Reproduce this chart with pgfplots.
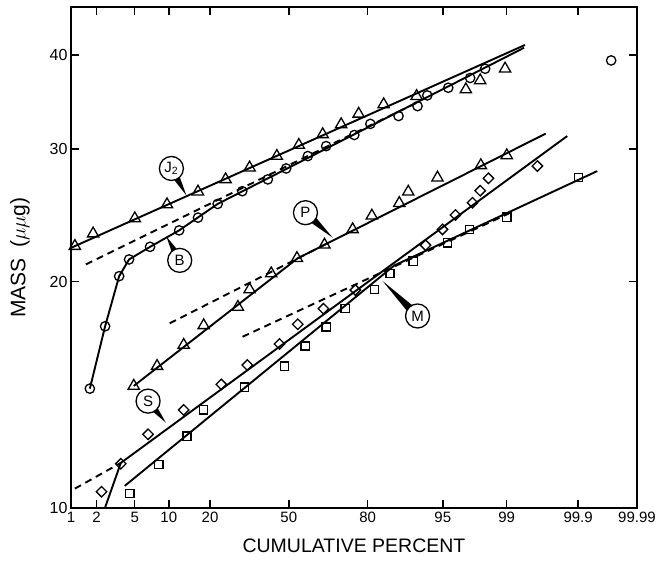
\documentclass[border=0pt]{standalone}
\usepackage{fontspec}
\setmainfont{Liberation Sans}
\usepackage{pgfplots}
\pgfplotsset{compat=1.18}
\usetikzlibrary{calc}

% x values are normal scores (probits) of the cumulative percent,
% so that the probability scale becomes linear.
\pgfplotsset{
  solidfit/.style={black, line width=1.9pt, no marks},
  dashfit/.style={black, line width=1.9pt, no marks, dash pattern=on 7pt off 5pt},
  triM/.style={only marks, mark=triangle, mark size=6.5pt,
    mark options={fill=white, draw=black, line width=1.3pt, solid}},
  cirM/.style={only marks, mark=o, mark size=4.7pt,
    mark options={fill=white, draw=black, line width=1.3pt, solid}},
  diaM/.style={only marks, mark=square, mark size=3.7pt,
    mark options={fill=white, draw=black, line width=1.3pt, rotate=45, solid}},
  sqM/.style={only marks, mark=square, mark size=4.1pt,
    mark options={fill=white, draw=black, line width=1.3pt, solid}},
}

\newcommand{\tagcircle}[3]{%
  \fill ($(#1)!5pt!90:(#2)$) -- (#2) -- ($(#1)!5pt!-90:(#2)$) -- cycle;
  \node[circle, draw=black, fill=white, line width=1.3pt, minimum size=24pt,
        inner sep=0pt, font=\fontsize{15}{15}\selectfont] at (#1) {#3};%
}

\begin{document}
\begin{tikzpicture}
\begin{axis}[
  scale only axis, width=566pt, height=501pt,
  xmin=-2.3263, xmax=3.7190,
  ymode=log, ymin=10, ymax=46.3,
  xtick={-2.3263,-2.0537,-1.6449,-1.2816,-0.8416,0,0.8416,1.6449,2.3263,3.0902,3.7190},
  xticklabels={1,2,5,10,20,50,80,95,99,99.9,99.99},
  ytick={10,20,30,40}, yticklabels={10,20,30,40},
  xminorticks=false, yminorticks=false,
  tick align=inside, major tick length=8pt,
  tick style={black, line width=1.4pt},
  axis line style={line width=1.8pt},
  xticklabel style={font=\fontsize{15}{15}\selectfont},
  yticklabel style={font=\fontsize{16}{16}\selectfont},
  xlabel={CUMULATIVE PERCENT},
  ylabel={MASS\enspace($\mu\mu$g)},
  every axis x label/.style={at={(axis description cs:0.5,0)}, yshift=-37pt,
    anchor=center, font=\fontsize{19.5}{19.5}\selectfont},
  every axis y label/.style={at={(axis description cs:0,0.5)}, xshift=-51pt,
    rotate=90, anchor=center, font=\fontsize{21}{21}\selectfont},
  clip mode=individual,
  /pgf/number format/assume math mode=true,
]

% ---------- fitted and hand-drawn lines ----------
% J2
\addplot[solidfit] coordinates {(-2.327,22.18) (2.523,41.26)};
% B
\addplot[solidfit] coordinates {(-2.125,14.42) (-1.962,17.45) (-1.812,20.34)
  (-1.706,21.41) (-1.482,22.25) (-1.171,23.40) (-0.760,25.37) (2.513,40.91)};
\addplot[dashfit] coordinates {(-2.167,21.09) (1.393,34.71)};
% P
\addplot[solidfit] coordinates {(-1.656,14.54) (0.093,21.48) (2.744,31.46)};
\addplot[dashfit] coordinates {(-1.272,17.61) (0.434,22.56)};
% S
\addplot[solidfit] coordinates {(-1.965,10.00) (-1.794,11.49) (2.974,31.23)};
\addplot[dashfit] coordinates {(-2.285,10.62) (-1.794,11.49)};
% M
\addplot[solidfit] coordinates {(-1.752,10.71) (1.127,21.02) (3.294,28.05)};
\addplot[dashfit] coordinates {(-0.494,16.90) (2.353,24.65)};

% ---------- measured points ----------
% J2 (triangles)
\addplot[triM] coordinates {(-2.285,22.30) (-2.090,23.17) (-1.645,24.27)
  (-1.301,25.33) (-0.970,26.34) (-0.675,27.35) (-0.419,28.35) (-0.128,29.37)
  (0.107,30.38) (0.362,31.39) (0.559,32.36) (0.746,33.42) (1.013,34.40)
  (1.365,35.28) (1.891,36.01) (2.044,37.02) (2.310,38.37)};
% B (circles)
\addplot[cirM] coordinates {(-2.125,14.42) (-1.962,17.45) (-1.812,20.34)
  (-1.706,21.41) (-1.482,22.25) (-1.171,23.40) (-0.970,24.33) (-0.760,25.37)
  (-0.497,26.38) (-0.224,27.35) (-0.028,28.28) (0.203,29.37) (0.399,30.28)
  (0.700,31.33) (0.871,32.41) (1.172,33.20) (1.375,34.22) (1.479,35.36)
  (1.703,36.20) (1.937,37.30) (2.097,38.37) (3.443,39.36)};
% P (triangles)
\addplot[triM] coordinates {(-1.656,14.54) (-1.407,15.45) (-1.123,16.48)
  (-0.909,17.50) (-0.544,18.51) (-0.419,19.53) (-0.188,20.51) (0.087,21.49)
  (0.381,22.39) (0.682,23.47) (0.887,24.47) (1.180,25.43) (1.276,26.33)
  (1.588,27.49) (2.051,28.55) (2.328,29.43)};
% S (diamonds)
\addplot[diaM] coordinates {(-2.000,10.52) (-1.794,11.46) (-1.503,12.54)
  (-1.123,13.51) (-0.721,14.61) (-0.443,15.50) (-0.099,16.53) (0.096,17.56)
  (0.370,18.42) (0.711,19.50) (1.461,22.36) (1.642,23.47) (1.780,24.53)
  (1.962,25.47) (2.044,26.42) (2.132,27.44) (2.655,28.49)};
% M (squares)
\addplot[sqM] coordinates {(-1.698,10.46) (-1.389,11.44) (-1.087,12.47)
  (-0.909,13.51) (-0.472,14.49) (-0.046,15.45) (0.175,16.43) (0.399,17.41)
  (0.601,18.44) (0.914,19.53) (1.081,20.50) (1.329,21.30) (1.695,22.53)
  (1.932,23.47) (2.328,24.37) (3.092,27.49)};

% label positions and pointer tips
\coordinate (Jc) at (axis cs:-1.254,28.28);
\coordinate (Jt) at (axis cs:-1.094,26.04);
\coordinate (Bc) at (axis cs:-1.165,21.35);
\coordinate (Bt) at (axis cs:-1.307,22.97);
\coordinate (Pc) at (axis cs:0.178,24.70);
\coordinate (Pt) at (axis cs:0.469,22.88);
\coordinate (Sc) at (axis cs:-1.503,13.88);
\coordinate (St) at (axis cs:-1.314,13.00);
\coordinate (Mc) at (axis cs:1.375,18.01);
\coordinate (Mt) at (axis cs:1.002,20.04);
\coordinate (bl) at (rel axis cs:0,0);
\end{axis}

\tagcircle{Jc}{Jt}{J\textsubscript{2}}
\tagcircle{Bc}{Bt}{B}
\tagcircle{Pc}{Pt}{P}
\tagcircle{Sc}{St}{S}
\tagcircle{Mc}{Mt}{M}

\path (bl) ++(-71pt,-51.7pt) rectangle ++(664pt,560pt);
\end{tikzpicture}
\end{document}
